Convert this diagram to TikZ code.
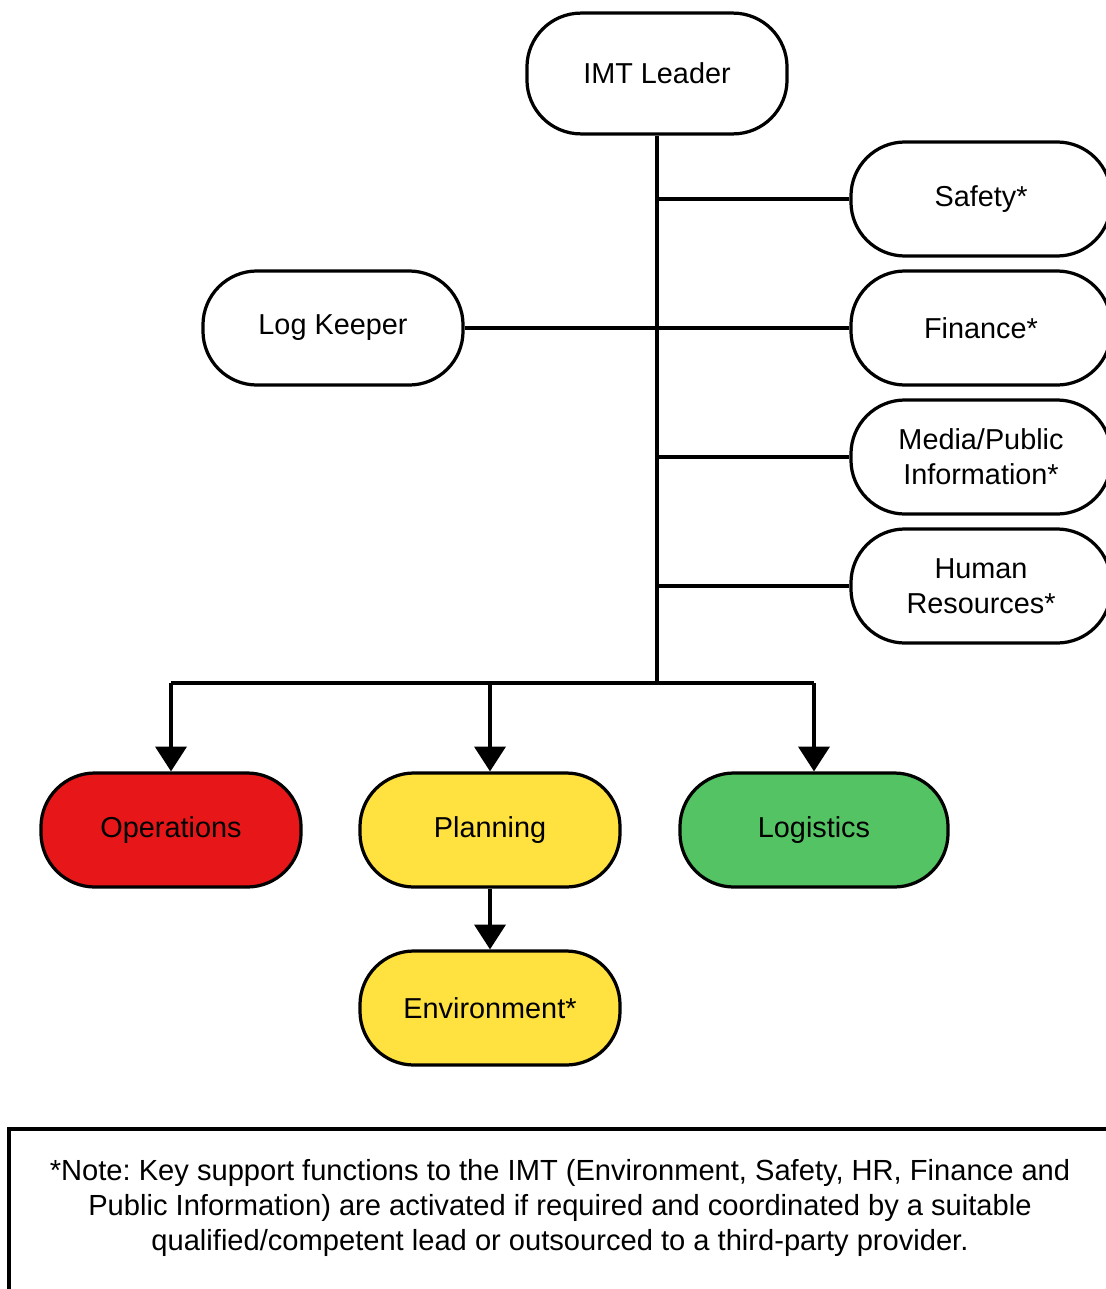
\documentclass[tikz,border=0pt]{standalone}
\usepackage{fontspec}
\setmainfont{Liberation Sans}
\usepackage{xcolor}
\usepackage{tikz}
\usetikzlibrary{arrows.meta,positioning}
\definecolor{imtred}{HTML}{E61619}
\definecolor{imtyellow}{HTML}{FFE13F}
\definecolor{imtgreen}{HTML}{54C363}
\frenchspacing
\tikzset{
  >={Triangle[width=0.78cm, length=0.62cm]},
  imtbox/.style={draw=black, fill=white, line width=2.3pt, rounded corners=1.35cm,
                 minimum width=6.5cm, minimum height=2.85cm, align=center,
                 font=\fontsize{20.5}{24.8}\selectfont, inner sep=2pt},
  imtlink/.style={black, line width=2.3pt},
  imtarrow/.style={->, black, line width=2.3pt},
  imtnote/.style={align=center, font=\fontsize{20.7}{24.8}\selectfont},
}

\begin{document}
\begin{tikzpicture}[x=0.025cm,y=-0.025cm]

  \useasboundingbox (0,0) rectangle (1105,1289);

  % leader and support functions
  \node[imtbox, minimum height=3.02cm] (lead) at (657,73.5) {IMT Leader};
  \node[imtbox] (safe) at (981,199) {Safety*};
  \node[imtbox] (logk) at (333,328) {Log Keeper};
  \node[imtbox] (fin)  at (981,328) {Finance*};
  \node[imtbox] (media) at (981,457) {Media/Public\\Information*};
  \node[imtbox] (hr)   at (981,586) {Human\\Resources*};

  % sections
  \node[imtbox, fill=imtred]    (ops)  at (171,830) {Operations};
  \node[imtbox, fill=imtyellow] (plan) at (490,830) {Planning};
  \node[imtbox, fill=imtgreen, minimum width=6.7cm] (logi) at (814,830) {Logistics};
  \node[imtbox, fill=imtyellow] (env)  at (490,1008) {Environment*};

  \coordinate (bus) at (657,683);

  % trunk and branches
  \draw[imtlink] (lead.south) -- (bus);
  \draw[imtlink] (lead.south |- safe.west) -- (safe.west);
  \draw[imtlink] (logk.east) -- (fin.west);
  \draw[imtlink] (lead.south |- media.west) -- (media.west);
  \draw[imtlink] (lead.south |- hr.west) -- (hr.west);

  \draw[imtlink] (ops.north |- bus) -- (logi.north |- bus);
  \foreach \s in {ops,plan,logi}{
    \draw[imtarrow] (\s.north |- bus) -- (\s.north);
  }
  \draw[imtarrow] (plan.south) -- (env.north);

  % note
  \draw[line width=2.4pt] (9,1320) -- (9,1129) -- (1130,1129);
  \node[imtnote] (note) at (560,1208) {*Note: Key support functions to the IMT (Environment, Safety, HR, Finance and\\
    Public Information) are activated if required and coordinated by a suitable\\
    qualified/competent lead or outsourced to a third-party provider.};

\end{tikzpicture}
\end{document}
